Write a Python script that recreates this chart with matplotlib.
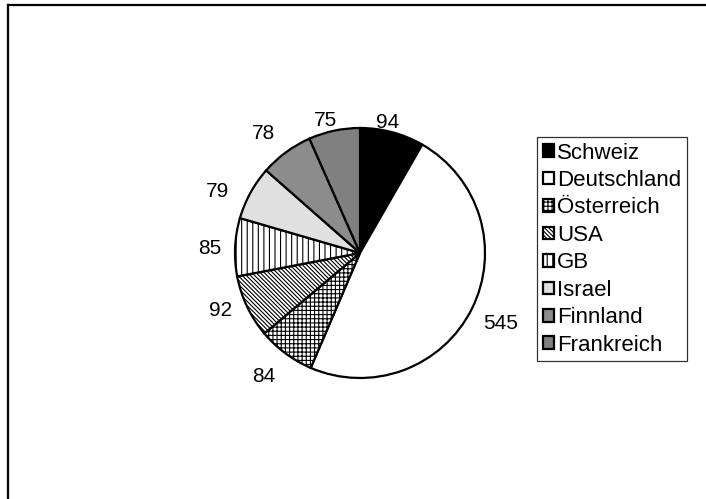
import numpy as np
import matplotlib
matplotlib.use("Agg")
import matplotlib.pyplot as plt
from matplotlib.lines import Line2D

countries = ["Schweiz", "Deutschland", "Österreich", "USA", "GB", "Israel", "Finnland", "Frankreich"]
values = [94, 545, 84, 92, 85, 79, 78, 75]

# slice fills and hatch patterns
colors = ["#000000", "#ffffff", "#ffffff", "#ffffff", "#ffffff", "#e0e0e0", "#8c8c8c", "#808080"]
hatches = ["", "", "++++", "\\\\\\\\\\\\\\\\", "|||", "", "", ""]
# value label placement: distance (pie radii) and angular nudge (degrees) from the slice centre line
label_radius = [1.07, 1.26, 1.25, 1.21, 1.20, 1.24, 1.23, 1.10]
label_nudge = [3, 0, -1.5, -3, 1, 5.5, 2.7, 2.8]

plt.rcParams["font.family"] = ["Liberation Sans", "DejaVu Sans"]
plt.rcParams["hatch.linewidth"] = 0.8

W, H = 706, 499
fig = plt.figure(figsize=(W / 100, H / 100), dpi=100)

r_px, cx, cy = 125, 360, 253
half = 1.5 * r_px
ax = fig.add_axes([(cx - half) / W, (H - cy - half) / H, 2 * half / W, 2 * half / H])
wedges, _ = ax.pie(values, colors=colors, startangle=90, counterclock=False,
                   wedgeprops=dict(edgecolor="black", linewidth=1.6))
for w, h in zip(wedges, hatches):
    w.set_hatch(h)
ax.set_xlim(-1.5, 1.5)
ax.set_ylim(-1.5, 1.5)
ax.set_aspect("equal")
ax.axis("off")

for w, v, k, dn in zip(wedges, values, label_radius, label_nudge):
    theta = np.deg2rad((w.theta1 + w.theta2) / 2 + dn)
    ax.text(k * np.cos(theta), k * np.sin(theta), str(v),
            ha="center", va="center", fontsize=15)

leg = fig.legend(wedges, countries, loc="upper left",
                 bbox_to_anchor=(537 / W, 1 - 137 / H),
                 frameon=True, fancybox=False, edgecolor="black",
                 fontsize=16, handlelength=0.5, handleheight=0.5,
                 handletextpad=0.15, labelspacing=0.29, borderpad=0.25,
                 borderaxespad=0)
leg.get_frame().set_linewidth(0.9)

# chart area frame
fig.add_artist(Line2D([8 / W, 8 / W], [0, 1 - 5 / H], color="black", lw=1.6, transform=fig.transFigure))
fig.add_artist(Line2D([8 / W, 1], [1 - 5 / H, 1 - 5 / H], color="black", lw=1.6, transform=fig.transFigure))

fig.savefig("out.png", dpi=100)
